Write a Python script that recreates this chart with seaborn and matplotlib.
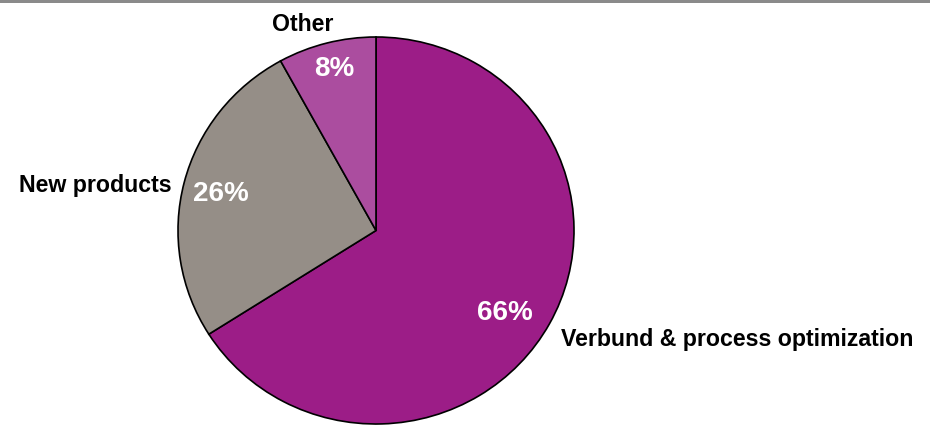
import matplotlib.pyplot as plt
import seaborn as sns
from matplotlib.patches import Rectangle

categories = ["Verbund & process optimization", "New products", "Other"]
shares = [66, 26, 8]
colors = ["#9C1D87", "#958E87", "#AB4D9F"]

# label spots in pie units (radius = 1), picked to match the reference layout
name_pos = [(0.935, -0.565, "left"), (-1.03, 0.232, "right"), (-0.37, 1.065, "center")]
pct_pos = [(0.652, -0.425), (-0.783, 0.19), (-0.212, 0.835)]

sns.set_theme(style="white")
plt.rcParams["font.family"] = ["Liberation Sans", "DejaVu Sans"]

fig = plt.figure(figsize=(9.3, 4.25), dpi=100)
W, H = 930, 425
cx, cy, rx, ry = 376, 230.5, 198, 193.5
ax = fig.add_axes([(cx - rx) / W, (H - cy - ry) / H, 2 * rx / W, 2 * ry / H])

ax.pie(shares, colors=colors, startangle=90, counterclock=False,
       wedgeprops={"edgecolor": "black", "linewidth": 1.2}, radius=1)
ax.set_aspect("auto")
ax.set_xlim(-1, 1)
ax.set_ylim(-1, 1)

for name, (x, y, ha) in zip(categories, name_pos):
    ax.text(x, y, name, ha=ha, va="center", fontsize=16.7, fontweight="bold", color="black")
for val, (x, y) in zip(shares, pct_pos):
    ax.text(x, y, f"{val}%", ha="center", va="center", fontsize=20, fontweight="bold", color="white")

# thin gray rule across the top
fig.add_artist(Rectangle((0, 1 - 3 / H), 1, 3 / H, transform=fig.transFigure,
                         facecolor="#8a8a8a", edgecolor="none"))

fig.savefig("out.png", dpi=100)
plt.close(fig)
